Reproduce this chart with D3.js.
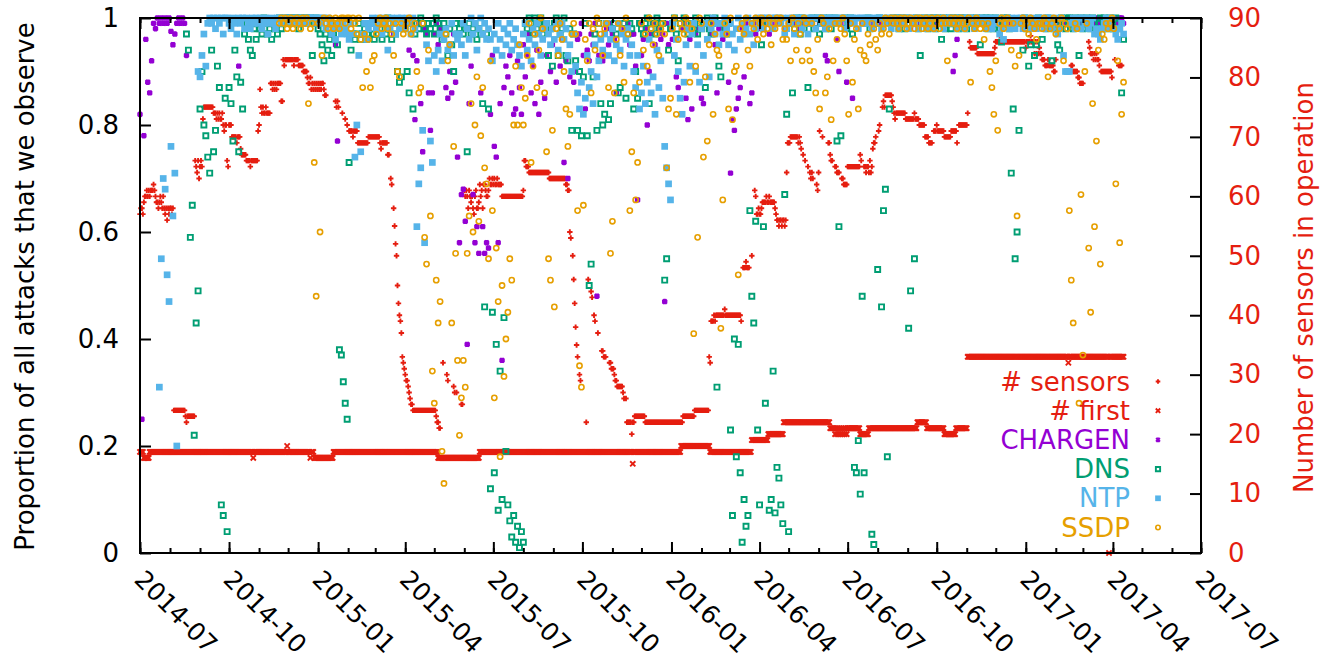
<!DOCTYPE html>
<html>
<head>
<meta charset="utf-8">
<script src="https://cdn.jsdelivr.net/npm/d3@7/dist/d3.min.js"></script>
<style>
  body { margin: 0; background: #fff; }
  text { font-family: "DejaVu Sans", sans-serif; }
</style>
</head>
<body>
<svg id="chart" width="1329" height="662"></svg>
<script>
// gap marker for days without a measurement
const _ = null;

const startDate = new Date(Date.UTC(2014, 6, 1));
const endDate = new Date(Date.UTC(2017, 6, 1));
const leftTicks = [0, 0.2, 0.4, 0.6, 0.8, 1];
const rightTicks = [0, 10, 20, 30, 40, 50, 60, 70, 80, 90];

// number of sensors in operation, one value per day from 2014-07-01
const sensorCounts = [
  57,58,58,57,59,60,60,61,60,61,60,61,61,61,62,61,60,59,59,58,
  59,60,59,58,60,58,57,58,56,58,57,58,58,57,58,24,24,24,24,24,
  24,24,24,24,24,24,24,23,22,23,23,23,23,23,23,23,23,66,65,64,
  66,63,65,66,65,73,75,75,75,75,75,75,75,75,75,75,74,74,74,73,
  74,73,74,73,73,74,72,71,72,72,66,65,72,72,72,70,70,70,70,70,
  69,70,70,70,68,67,67,67,67,67,66,66,66,66,65,66,66,66,66,66,
  66,66,71,72,78,75,74,75,74,74,75,74,74,74,74,79,79,78,79,78,
  79,78,79,79,79,79,76,76,83,82,83,83,83,83,83,83,83,83,83,82,
  83,83,83,83,82,82,82,82,82,81,81,81,81,80,79,79,80,78,79,78,
  79,78,79,78,79,78,79,78,79,79,78,77,77,_,_,_,_,_,_,_,
  _,_,76,75,76,75,_,_,_,74,_,_,73,_,72,_,71,71,71,71,
  70,71,71,71,71,69,69,69,69,69,69,69,69,69,69,69,70,70,70,70,
  70,70,70,70,70,70,70,70,69,68,69,69,69,69,69,69,67,67,_,63,
  62,_,58,55,52,50,45,42,40,39,37,33,32,31,30,29,29,28,27,26,
  25,25,24,24,24,24,24,24,24,24,24,24,24,24,24,24,24,24,24,24,
  24,24,24,24,24,24,23,22,22,21,21,_,_,32,_,_,_,30,29,_,
  _,_,_,_,28,27,_,27,_,_,_,_,25,25,_,61,60,61,60,58,
  61,60,59,60,58,57,60,61,58,58,59,62,60,61,58,62,62,61,60,60,
  61,63,62,62,63,62,63,62,62,63,62,62,62,62,60,60,60,60,60,60,
  60,60,60,60,60,60,60,60,60,60,60,60,60,60,60,60,61,66,66,65,
  65,65,64,64,64,64,64,64,64,64,64,64,64,64,64,64,64,64,64,64,
  64,64,64,63,63,63,63,63,63,63,63,63,63,63,63,63,63,63,63,63,
  62,62,61,61,54,53,_,50,46,42,38,35,33,_,30,29,_,_,_,_,
  _,22,_,46,_,_,44,43,_,40,39,_,_,37,_,_,_,34,34,33,
  33,33,_,_,_,32,32,31,31,31,30,29,29,28,28,28,28,28,28,27,
  26,_,26,22,22,22,22,22,20,22,22,23,23,23,23,23,23,23,23,23,
  23,23,22,22,22,22,22,22,22,22,22,22,22,22,22,22,22,22,22,22,
  22,22,22,22,22,22,22,22,22,22,22,22,22,22,22,22,22,22,22,22,
  22,23,23,23,23,23,23,23,23,23,23,23,23,24,24,24,24,24,24,24,
  24,24,24,24,24,24,24,24,33,32,39,39,39,40,39,40,40,40,40,40,
  40,40,40,40,41,40,40,40,40,40,40,40,40,40,40,40,40,40,40,40,
  40,39,_,48,48,48,49,48,48,48,_,_,50,_,_,61,60,57,57,58,
  57,57,58,59,59,59,59,60,59,59,60,59,59,59,59,59,58,57,56,56,
  55,56,56,55,56,56,55,56,64,69,69,69,70,70,70,70,70,70,70,70,
  69,70,69,68,_,67,_,66,_,_,65,_,64,63,64,63,_,_,_,62,
  61,64,71,_,_,70,_,_,_,_,_,69,69,67,66,66,_,_,65,65,
  64,64,64,_,_,63,63,62,62,62,62,65,65,65,65,65,65,65,65,65,
  65,65,65,65,67,66,_,_,65,65,64,65,65,64,66,64,65,68,69,69,
  70,_,_,71,72,_,_,75,76,75,77,77,77,77,77,77,77,76,75,74,
  73,74,74,74,74,74,74,74,74,74,74,73,73,73,73,73,73,73,73,73,
  74,73,73,73,73,72,72,72,72,72,72,70,70,70,70,69,69,69,69,_,
  71,71,71,72,71,71,71,71,71,71,71,70,70,70,70,70,70,70,71,71,
  71,71,71,71,69,_,72,72,72,72,72,72,72,72,72,74,_,86,85,85,
  85,85,85,85,85,84,84,84,84,84,84,84,84,84,84,84,84,84,84,84,
  84,84,84,85,86,86,86,86,87,86,86,86,86,86,86,86,86,86,86,86,
  86,86,86,86,86,86,86,86,86,86,86,86,86,86,86,85,86,86,86,86,
  87,86,86,86,84,86,84,86,84,85,84,84,83,83,83,82,82,82,83,82,
  82,82,82,82,81,81,83,_,_,_,_,_,_,_,_,_,_,_,_,_,
  _,_,82,82,81,81,81,81,81,80,80,79,79,79,79,_,_,_,_,_,
  86,85,84,84,84,83,84,83,84,83,83,82,_,81,81,81,81,81,81,81,
  81,81,81,81,80,_,_,83,_,_,_,82,82,82,82,_,_
];

// number of sensors that saw an attack first, one value per day
const firstCounts = [
  17,17,17,17,16,16,16,16,16,16,17,17,17,17,17,17,17,17,17,17,
  17,17,17,17,17,17,17,17,17,17,17,17,17,17,17,17,17,17,17,17,
  17,17,17,17,17,17,17,17,17,17,17,17,17,17,17,17,17,17,17,17,
  17,17,17,17,17,17,17,17,17,17,17,17,17,17,17,17,17,17,17,17,
  17,17,17,17,17,17,17,17,17,17,17,17,17,17,17,17,17,17,17,17,
  17,17,17,17,17,17,17,17,17,17,17,17,17,17,17,17,17,16,17,17,
  17,17,17,17,17,17,17,17,17,17,17,17,17,17,17,17,17,17,17,17,
  17,17,17,17,17,17,17,17,17,17,17,17,18,17,17,17,17,17,17,17,
  17,17,17,17,17,17,17,17,17,17,17,17,17,17,17,17,16,17,17,17,
  16,16,16,16,16,16,16,16,16,16,16,16,16,16,16,16,16,16,16,16,
  17,17,17,17,17,17,17,17,17,17,17,17,17,17,17,17,17,17,17,17,
  17,17,17,17,17,17,17,17,17,17,17,17,17,17,17,17,17,17,17,17,
  17,17,17,17,17,17,17,17,17,17,17,17,17,17,17,17,17,17,17,17,
  17,17,17,17,17,17,17,17,17,17,17,17,17,17,17,17,17,17,17,17,
  17,17,17,17,17,17,17,17,17,17,17,17,17,17,17,17,17,17,17,17,
  17,17,17,17,17,17,17,17,16,16,16,16,16,16,16,16,16,16,16,16,
  16,16,16,16,16,16,16,16,16,16,16,16,16,16,16,16,16,16,16,16,
  16,16,16,16,16,16,16,16,16,16,16,17,17,17,17,17,17,17,17,17,
  17,17,17,17,17,17,17,17,17,17,17,17,17,17,17,17,17,17,17,17,
  17,17,17,17,17,17,17,17,17,17,17,17,17,17,17,17,17,17,17,17,
  17,17,17,17,17,17,17,17,17,17,17,17,17,17,17,17,17,17,17,17,
  17,17,17,17,17,17,17,17,17,17,17,17,17,17,17,17,17,17,17,17,
  17,17,17,17,17,17,17,17,17,17,17,17,17,17,17,17,17,17,17,17,
  17,17,17,17,17,17,17,17,17,17,17,17,17,17,17,17,17,17,17,17,
  17,17,17,17,17,17,17,17,17,17,17,17,17,17,17,17,17,17,17,17,
  17,17,17,17,17,17,17,17,17,15,17,17,17,17,17,17,17,17,17,17,
  17,17,17,17,17,17,17,17,17,17,17,17,17,17,17,17,17,17,17,17,
  17,17,17,17,17,17,17,17,17,17,17,17,17,17,17,17,17,17,17,18,
  18,18,18,18,18,18,18,18,18,18,18,18,18,18,18,18,18,18,18,18,
  18,18,18,18,18,18,18,18,18,17,17,17,17,17,17,17,17,17,17,17,
  17,17,17,17,17,17,17,17,17,17,17,17,17,17,17,17,17,17,17,17,
  17,17,17,17,17,17,17,17,17,17,17,17,19,19,19,19,19,19,19,19,
  19,19,19,19,19,19,19,19,19,20,20,20,20,20,20,20,20,20,20,20,
  20,20,20,20,20,22,22,22,22,22,22,22,22,22,22,22,22,22,22,22,
  22,22,22,22,22,22,22,22,22,22,22,22,22,22,22,22,22,22,22,22,
  22,22,22,22,22,22,22,22,22,22,22,22,22,21,21,21,21,21,20,21,
  20,21,20,21,20,21,20,21,20,21,20,21,21,21,21,21,21,21,21,21,
  21,21,21,21,20,20,20,20,20,20,20,20,20,21,21,21,21,21,21,21,
  21,21,21,21,21,21,21,21,21,21,21,21,21,21,21,21,21,21,21,21,
  21,21,21,21,21,21,21,21,21,21,21,21,21,21,21,21,21,21,21,21,
  21,21,21,22,22,22,22,22,22,22,22,22,22,21,21,21,21,21,21,21,
  21,21,21,21,21,21,21,21,21,21,21,20,20,20,20,20,20,20,20,20,
  20,20,20,21,21,21,21,21,21,21,21,21,21,21,21,33,33,33,33,33,
  33,33,33,33,33,33,33,33,33,33,33,33,33,33,33,33,33,33,33,33,
  33,33,33,33,33,33,33,33,33,33,33,33,33,33,33,33,33,33,33,33,
  33,33,33,33,33,33,33,33,33,33,33,33,33,33,33,33,33,33,33,33,
  33,33,33,33,33,33,33,33,33,33,33,33,33,33,33,33,33,33,33,33,
  33,33,33,33,33,33,33,33,33,33,33,33,33,33,33,33,33,33,33,32,
  33,33,33,33,33,33,33,33,33,33,33,33,33,33,33,33,33,33,33,33,
  33,33,33,33,33,33,33,33,33,33,33,33,33,33,33,33,33,33,33,33,
  33,0,33,33,33,33,33,33,33,33,33,33,33,33,33,33,33
];

// share of attacks observed, one value every second day from 2014-07-01
const chargenShare = [
  .82,.25,.78,.96,.88,.86,.92,.99,.98,1,.99,1,.99,1,.99,
  1,.975,.95,.97,.99,1,.99,1,.99,.93,_,_,_,_,_,
  _,_,_,_,_,_,_,_,_,_,_,_,_,_,_,
  _,_,_,_,_,_,.91,_,_,_,_,_,_,_,_,
  _,_,_,_,_,_,_,_,_,_,_,_,_,_,_,
  _,_,_,_,_,_,_,_,_,_,_,_,_,_,_,
  _,_,_,_,_,_,_,_,_,_,_,.95,.77,_,_,
  _,_,_,_,_,_,_,_,_,_,_,_,_,_,_,
  _,_,_,_,_,_,_,_,_,_,_,.97,_,_,_,
  _,_,_,.99,.94,_,.93,.81,.92,.99,.84,.75,.98,.97,.86,
  .79,.86,.97,.99,.95,.98,.92,.96,.87,.85,.90,.86,.97,.88,.74,
  .58,.67,.68,.62,.39,.84,.91,.67,.58,.61,.56,.86,.61,.56,.58,
  .57,.82,.93,.76,.74,.58,.84,.36,.87,.91,.89,.93,.86,.82,.83,
  .92,.87,.82,.95,.89,.93,.97,.86,.91,.84,.94,.82,.88,.96,.85,
  .93,.97,.90,.95,.99,.88,.94,.91,.96,.73,.92,.70,.89,.90,.88,
  .90,.96,.97,.99,.93,.83,.94,.92,.97,.95,.99,.48,.93,.96,.92,
  .93,.98,.95,.99,.97,.96,.86,.99,.94,.97,.98,.96,.99,.95,.97,
  .97,.91,.66,.99,.93,.96,.98,.80,.90,.97,.99,.95,.94,.98,.96,
  .97,.47,.99,.95,.98,.96,.93,.89,.87,.85,.98,.99,.85,.81,.96,
  .83,.99,.97,.95,.98,.85,.84,.99,.96,.98,.97,.99,.95,.86,.98,
  .99,.96,.98,.97,.88,.71,.81,.79,.83,.85,.87,.98,.89,.99,.97,
  .84,.86,.99,.97,.98,.99,1,.98,.99,1,.97,.99,.98,1,.99,
  1,.99,1,.98,1,.99,1,1,.99,1,1,.98,1,.99,1,
  1,.99,1,1,.98,1,.99,1,1,.93,.92,1,.99,1,1,
  .96,.90,.99,1,.98,.88,.99,1,.85,.99,1,.98,1,.99,1,
  1,.99,1,1,.99,1,1,.99,1,1,.99,1,1,.99,1,
  1,1,.99,1,1,.99,1,1,.98,1,.99,1,1,.99,1,
  1,.99,1,1,.99,1,1,.99,1,1,.99,1,.99,1,1,
  .90,.93,.96,1,.99,1,1,.99,1,1,.99,1,1,.99,1,
  1,.99,1,1,.99,1,1,.99,1,1,.99,1,1,.99,1,
  1,1,.99,1,1,.99,1,1,.99,1,1,.99,1,1,.99,
  1,.99,1,1,.99,1,1,.99,1,1,.99,1,1,.99,1,
  1,1,.99,1,1,.99,1,1,.99,1,1,.99,1,1,.99,
  1,.99,1,1,.99,1,1,.99,1,1,.99,1,1,.99
];

const dnsShare = [
  _,_,_,_,_,_,_,_,_,_,_,_,_,_,_,
  _,_,_,_,_,_,_,_,_,.97,.94,.59,.65,.22,.43,
  .49,.83,.90,.80,.78,.74,.71,.94,.75,.79,.91,.87,.09,.07,.85,
  .04,.87,.84,.77,.94,.89,.75,.88,.83,.97,.99,.96,.94,.93,.98,
  .96,.99,.98,.97,1,.99,.97,.98,.96,.99,.98,.97,1,.98,.99,
  1,.99,1,1,.99,1,1,.98,1,.99,1,1,.99,1,.93,
  .99,1,.98,.97,.95,.92,.97,.94,.96,.93,.97,.99,.95,.38,.37,
  .32,.28,.25,.73,.94,.97,.96,.97,.99,.96,.97,.98,.96,.97,.99,
  .97,.96,.99,.97,.98,.96,.99,.97,1,.98,.96,.99,.97,.90,.88,
  .89,.99,.98,.90,.86,.99,.83,.97,.99,.98,1,.99,.98,.97,.99,
  .98,.99,.97,1,.99,.98,.96,.99,.97,.93,.98,.95,.90,.99,.97,
  .98,.99,.97,.98,.75,.99,.97,.98,.99,.96,.98,.97,.84,.46,.97,
  .83,.12,.45,.15,.39,.08,.34,.10,.44,.19,.09,.06,.03,.07,.02,
  .05,.01,.04,.02,.99,.98,1,.99,.97,1,.98,.99,1,.97,.99,
  .99,.93,.98,.91,.99,1,.93,.97,.98,1,.93,.92,.98,.79,.97,
  .92,.79,.90,.78,.89,.99,.78,.50,.54,.89,.97,.79,.99,.84,.80,
  .82,.99,.81,.84,.98,.99,.97,.86,.87,.98,.99,.85,.97,.99,.98,
  .83,.90,.85,.99,.98,.97,.99,1,.84,.98,.99,.97,1,.98,.99,
  .99,.51,.55,.94,.98,.99,1,.97,.92,.99,.98,1,.99,.97,.98,
  .99,.98,1,.97,.99,.98,.99,.87,1,.98,.97,.99,1,.31,.91,
  .89,.99,.98,.97,.99,.23,.07,.40,.18,.39,.15,.02,.10,.05,.07,
  .64,.48,.43,.62,.23,.09,.95,.61,.28,.99,.08,.10,.34,.075,.16,
  .14,.09,.055,.67,.82,.04,.99,.86,.98,1,.99,.97,1,.98,.99,
  .87,.99,1,.98,.99,1,.97,.99,1,.98,.99,1,.98,.99,1,
  .77,.61,.78,.99,1,.98,.99,1,.97,.16,.15,.21,.11,.48,.15,
  .99,1,.98,.035,.016,.99,.53,1,.46,.64,.68,.18,.83,.99,1,
  .99,1,.98,1,.99,.98,1,.42,.49,.99,.55,1,.98,.93,.99,
  1,.99,.98,1,.99,1,.98,1,.99,.96,1,.98,.99,1,.98,
  1,.99,1,.98,1,.99,1,.98,.99,1,.99,.985,1,.99,.95,
  1,.99,1,.98,1,.99,.98,1,.99,.98,.955,1,.99,1,.98,
  .71,.83,.55,.60,.79,.99,.94,1,.98,.91,.95,.99,.93,.95,1,
  .99,.96,.99,.98,1,.99,.92,.98,.99,.95,.94,1,.99,.98,1,
  1,.99,.98,1,.99,.93,1,.98,.99,1,.99,.98,1,.99,.98,
  .99,1,.98,1,.99,.98,1,.99,.98,1,.99,.98,.86,.96
];

const ntpShare = [
  _,_,_,_,_,_,_,_,_,_,.31,.55,.70,.68,.52,
  .47,.76,.63,.71,.20,_,_,_,_,_,_,_,_,_,_,
  .90,.89,.93,.97,.91,.99,1,.99,1,.98,1,.99,1,.97,1,
  1,.99,.98,1,.99,.97,1,.99,1,.98,1,.99,.98,1,.99,
  1,.99,1,.98,.99,1,.97,.99,1,.99,.98,1,1,.99,1,
  1,1,.99,1,1,.99,1,1,.99,1,1,.99,1,1,1,
  1,.99,1,1,.99,1,.98,1,.99,.97,.98,.96,.99,.98,.97,
  .99,.98,.97,.96,.99,.97,.74,.80,.93,.75,.97,.99,.96,.98,.99,
  1,.99,.98,1,.99,.97,1,.99,.94,.98,1,.99,.97,1,.98,
  1,.99,.98,1,.99,.97,1,.98,.61,.69,.72,.79,.58,.95,.92,
  .77,.73,.93,.90,.94,.97,.92,.96,.98,.94,.95,.99,.93,.97,.96,
  .97,.95,.99,.93,.98,.96,1,.97,.99,.94,.98,1,.97,.99,.96,
  .98,.96,.92,.97,.94,.99,.96,.93,.98,.95,.97,.99,.94,.96,.98,
  .95,.93,.91,.97,.99,.94,.96,.92,.98,.95,.99,.97,.93,.96,.98,
  .99,.97,.95,.98,.96,.99,.94,.97,.99,.96,.98,.93,.95,.90,.97,
  .91,.86,.83,.88,.82,.85,.93,.87,.90,.84,.95,.89,.92,.96,.94,
  .97,.99,.93,.96,.98,.92,.95,.99,.94,.97,.91,.96,.98,.93,.95,
  .90,.87,.93,.83,.86,.91,.84,.88,.96,.86,.89,.82,.94,.87,.92,
  .85,.76,.72,.69,.66,.99,.93,.96,.90,.85,.82,.88,.95,.98,.91,
  .97,.99,.90,.95,.88,.98,.93,.99,.96,.89,.98,1,.97,.99,.95,
  .99,.97,1,.98,.95,.99,.97,.94,.98,1,.96,.99,.97,.98,1,
  .97,.99,.95,.98,1,.99,1,.98,1,1,.99,1,.98,1,1,
  1,.99,1,.97,.98,1,.99,1,.97,1,.99,1,.98,1,.99,
  .97,1,.99,1,.98,1,1,.99,1,.98,1,.99,1,1,.99,
  1,.99,1,1,.98,1,.99,1,1,.99,1,.98,1,1,.99,
  1,.99,1,.98,1,.99,1,1,.98,1,.99,1,1,.98,1,
  .99,1,.98,1,1,.99,1,.98,1,1,.99,1,.98,1,.99,
  1,.98,1,.99,1,.98,1,1,.99,1,.98,1,.99,1,1,
  .99,1,.98,1,.99,1,.98,1,1,.99,1,.98,1,.99,1,
  .99,1,.98,1,.99,.98,1,.99,1,.97,.98,.96,.99,1,.98,
  1,.99,.98,1,.99,1,.98,1,.99,1,.98,1,.99,.98,1,
  .99,1,.98,1,.99,1,.98,.99,1,.97,.98,1,.93,.90,.90,
  .90,.99,1,.98,.99,1,.98,1,.99,1,.98,.99,1,.97,.98,
  .97,.96,.98,.99,1,.98,.99,1,.98,.97,.96,.98,.99,.97
];

const ssdpShare = [
  _,_,_,_,_,_,_,_,_,_,_,_,_,_,_,
  _,_,_,_,_,_,_,_,_,_,_,_,_,_,_,
  _,_,_,_,_,_,_,_,_,_,_,_,_,_,_,
  _,_,_,_,_,_,_,_,_,_,_,_,_,_,_,
  _,_,_,_,_,_,_,_,_,_,_,_,.99,1,.99,
  1,.98,.99,1,.98,.99,1,.99,.98,1,.99,1,.84,.98,.99,
  .73,.48,.99,.60,.93,1,.99,.98,1,.99,.98,1,.99,.98,1,
  1,.99,1,1,.98,1,.99,.97,1,.96,.87,.97,.90,.96,.87,
  .92,.93,.97,.99,1,.98,.99,1,.98,.99,.97,.93,.99,.90,.89,
  .99,.97,.98,.99,1,.97,.98,.99,.90,.86,.87,.99,.59,.54,.94,
  .63,.34,.28,.51,.43,.47,.19,.13,.97,.92,.95,.43,.76,.56,.36,
  .22,.29,.36,.31,.56,.63,.84,.60,.80,.89,.62,.78,.87,.72,.69,
  .55,.92,.64,.29,.57,.47,.18,.50,.33,.40,.45,.55,.51,.80,.91,
  .80,.95,.87,.80,.85,.93,.99,.73,.91,.97,.87,.94,1,.98,.86,
  .75,.55,.51,.79,.46,.98,.93,.99,.96,.90,.83,.76,.82,.97,.99,
  .97,.64,.35,.31,.65,.96,.92,.99,.86,.98,.94,1,.99,.97,.93,
  .98,.99,.87,.56,.62,.86,.96,.99,.93,.98,.88,1,.97,.64,.75,
  .86,.66,.73,.88,.99,.94,.97,.91,1,.98,.95,.99,.97,.93,.98,
  .99,.97,.72,.83,.85,.98,1,.82,.96,.99,.98,.97,1,.99,.88,
  .98,.41,.91,.59,1,.99,.74,.89,.77,.95,.99,.82,.97,.94,.93,
  .42,.66,.99,.97,.83,1,.81,.90,.91,.52,.98,.99,.97,1,.94,
  .91,.99,.98,1,.96,.99,1,.97,.99,.98,1,.95,.99,.98,1,
  .99,1,.96,.98,.96,.99,.92,1,.98,.94,.99,.97,.92,1,.99,
  .94,.92,.99,.90,.86,.96,.83,1,.99,.86,.89,.98,.81,.92,.99,
  .96,.99,.98,1,.97,.92,.82,.99,.88,.96,.98,.83,.94,.99,.93,
  .92,.97,.95,.99,.98,.96,.94,.99,.97,.98,1,.99,.97,1,.99,
  1,.99,.98,1,.99,1,.98,.99,1,.99,.98,1,.99,1,.98,
  .99,1,.98,.99,1,.98,.99,1,.98,.99,1,.99,.92,.99,1,
  .99,1,.98,.99,1,.99,.98,.99,1,.88,.99,.98,1,.99,.98,
  .99,.96,.98,.99,.90,.87,.82,.92,.79,.99,1,.98,.99,1,.99,
  .94,.99,.91,.63,.93,.99,1,.98,.99,.97,1,.99,.98,.96,.99,
  .99,.98,1,.99,.89,.98,.99,1,.97,.99,.98,1,.92,.99,.98,
  .64,.51,.43,.99,.98,.28,.67,.37,.90,.99,.57,.45,.84,.61,.77,
  .94,.54,.97,.96,.99,.98,.99,1,.98,.69,.92,.58,.82,.88
];

// ---- layout ----
const svg = d3.select("#chart");
const plot = { left: 140, right: 1201, top: 18, bottom: 553 };
const FONT = 26;

const x = d3.scaleUtc().domain([startDate, endDate]).range([plot.left, plot.right]);
const yLeft = d3.scaleLinear().domain([0, 1]).range([plot.bottom, plot.top]);
const yRight = d3.scaleLinear().domain([0, 90]).range([plot.bottom, plot.top]);

// ---- marker shapes (gnuplot point types) ----
const markerPath = {
  plus: r => `M${-r},0H${r}M0,${-r}V${r}`,
  cross: r => `M${-r},${-r}L${r},${r}M${-r},${r}L${r},${-r}`,
  star: r => `M${-r},0H${r}M0,${-r}V${r}M${-r*0.8},${-r*0.8}L${r*0.8},${r*0.8}M${-r*0.8},${r*0.8}L${r*0.8},${-r*0.8}`,
  square: r => `M${-r},${-r}H${r}V${r}H${-r}Z`,
  circle: r => `M${r},0A${r},${r},0,1,1,${-r},0A${r},${r},0,1,1,${r},0Z`
};

const series = [
  { label: "# sensors", values: sensorCounts, step: 1, y: yRight, shape: "plus", r: 2.7, color: "#e51e10", fill: "none", width: 1.9 },
  { label: "# first", values: firstCounts, step: 1, y: yRight, shape: "cross", r: 2.6, color: "#e51e10", fill: "none", width: 1.9 },
  { label: "CHARGEN", values: chargenShare, step: 2, y: yLeft, shape: "star", r: 2.7, color: "#9400d3", fill: "none", width: 2.1 },
  { label: "DNS", values: dnsShare, step: 2, y: yLeft, shape: "square", r: 2.5, color: "#009e73", fill: "none", width: 1.9 },
  { label: "NTP", values: ntpShare, step: 2, y: yLeft, shape: "square", r: 3.35, color: "#56b4e9", fill: "#56b4e9", width: 0 },
  { label: "SSDP", values: ssdpShare, step: 2, y: yLeft, shape: "circle", r: 2.6, color: "#e69f00", fill: "none", width: 1.6 }
];

function pointsOf(s) {
  const pts = [];
  s.values.forEach((v, i) => {
    if (v == null) return;
    pts.push({ date: d3.utcDay.offset(startDate, i * s.step), value: v });
  });
  return pts;
}

// ---- data marks ----
const marks = svg.append("g").attr("class", "marks");
series.forEach(s => {
  marks.append("g")
    .attr("fill", s.fill)
    .attr("stroke", s.width ? s.color : "none")
    .attr("stroke-width", s.width)
    .selectAll("path")
    .data(pointsOf(s))
    .join("path")
    .attr("d", markerPath[s.shape](s.r))
    .attr("transform", d => `translate(${x(d.date)},${s.y(d.value)})`);
});

// ---- axes ----
const majorDates = d3.utcMonth.every(3).range(startDate, d3.utcDay.offset(endDate, 1));
const minorDates = d3.utcMonth.range(startDate, d3.utcDay.offset(endDate, 1));

function styleAxis(g) {
  g.select(".domain").remove();
  g.selectAll(".tick line").attr("stroke", "#000").attr("stroke-width", 2);
  g.selectAll(".tick text").attr("font-size", FONT).attr("font-family", "DejaVu Sans, sans-serif");
}

[[d3.axisBottom, plot.bottom], [d3.axisTop, plot.top]].forEach(([axisFn, yPos]) => {
  svg.append("g").attr("transform", `translate(0,${yPos})`)
    .call(axisFn(x).tickValues(minorDates).tickSize(-5).tickFormat(""))
    .call(styleAxis);
  svg.append("g").attr("transform", `translate(0,${yPos})`)
    .call(axisFn(x).tickValues(majorDates).tickSize(-11).tickFormat(""))
    .call(styleAxis);
});

// rotated date labels under the bottom axis
const fmtMonth = d3.utcFormat("%Y-%m");
svg.append("g").selectAll("text")
  .data(majorDates)
  .join("text")
  .attr("transform", d => `translate(${x(d) - 7},${plot.bottom + 28}) rotate(45)`)
  .attr("font-size", 25)
  .attr("fill", "#000")
  .text(d => fmtMonth(d));

svg.append("g").attr("transform", `translate(${plot.left},0)`)
  .call(d3.axisLeft(yLeft).tickValues(leftTicks).tickSize(-11).tickPadding(21).tickFormat(d3.format("")))
  .call(styleAxis)
  .call(g => g.selectAll(".tick text").attr("fill", "#000"));

svg.append("g").attr("transform", `translate(${plot.right},0)`)
  .call(d3.axisRight(yRight).tickValues(rightTicks).tickSize(-11).tickPadding(27).tickFormat(d3.format("d")))
  .call(styleAxis)
  .call(g => g.selectAll(".tick text").attr("fill", "#e51e10"));

// frame
svg.append("rect")
  .attr("x", plot.left).attr("y", plot.top)
  .attr("width", plot.right - plot.left).attr("height", plot.bottom - plot.top)
  .attr("fill", "none").attr("stroke", "#000").attr("stroke-width", 2);

// axis titles
svg.append("text")
  .attr("transform", `translate(25,${(plot.top + plot.bottom) / 2 + 1}) rotate(-90)`)
  .attr("text-anchor", "middle").attr("dominant-baseline", "central")
  .attr("font-size", FONT).attr("fill", "#000")
  .text("Proportion of all attacks that we observe");

svg.append("text")
  .attr("transform", `translate(1304,${(plot.top + plot.bottom) / 2 + 2}) rotate(-90)`)
  .attr("text-anchor", "middle").attr("dominant-baseline", "central")
  .attr("font-size", FONT).attr("fill", "#e51e10")
  .text("Number of sensors in operation");

// legend
const legend = svg.append("g");
series.forEach((s, i) => {
  const row = legend.append("g").attr("transform", `translate(0,${381.5 + i * 29.2})`);
  row.append("text")
    .attr("x", 1130).attr("text-anchor", "end").attr("dominant-baseline", "central")
    .attr("font-size", FONT).attr("fill", s.color)
    .text(s.label);
  row.append("path")
    .attr("transform", "translate(1158,0)")
    .attr("d", markerPath[s.shape](s.r * 0.85))
    .attr("fill", s.fill)
    .attr("stroke", s.width ? s.color : "none")
    .attr("stroke-width", s.width);
});
</script>
</body>
</html>
